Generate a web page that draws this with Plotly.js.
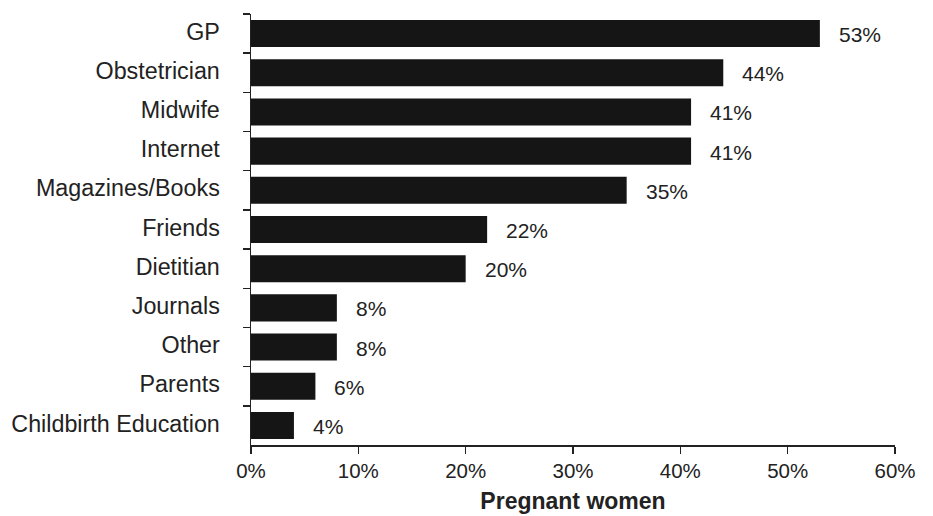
<!DOCTYPE html>
<html>
<head>
<meta charset="utf-8">
<script src="https://cdn.plot.ly/plotly-3.0.1.min.js"></script>
<style>html,body{margin:0;padding:0;background:#fff;}#chart{width:933px;height:516px;}</style>
</head>
<body>
<div id="chart"></div>
<script>
const categories = ["GP","Obstetrician","Midwife","Internet","Magazines/Books","Friends","Dietitian","Journals","Other","Parents","Childbirth Education"];
const values = [53,44,41,41,35,22,20,8,8,6,4];
const labels = ["53%","44%","41%","41%","35%","22%","20%","8%","8%","6%","4%"];
const xTickVals = [0,10,20,30,40,50,60];
const xTickText = ["0%","10%","20%","30%","40%","50%","60%"];

const font = "Liberation Sans, Arial, Helvetica, sans-serif";
const trace = {
  type: "bar",
  orientation: "h",
  x: values,
  y: categories,
  marker: {color: "#151515", line: {width: 0}},
  hoverinfo: "skip"
};
const annotations = categories.map((c, i) => ({
  x: values[i], y: c, text: labels[i], showarrow: false,
  xanchor: "left", yanchor: "middle", xshift: 17, yshift: -1,
  font: {family: font, size: 21, color: "#222"}
}));
const layout = {
  width: 933, height: 516,
  margin: {l: 250.5, r: 38, t: 13.5, b: 71},
  paper_bgcolor: "#fff", plot_bgcolor: "#fff",
  bargap: 0.31,
  showlegend: false,
  font: {family: font, color: "#222"},
  xaxis: {
    range: [0, 60], tickvals: xTickVals, ticktext: xTickText,
    ticks: "outside", ticklen: 7, tickwidth: 1.5, tickcolor: "#222",
    showline: true, linecolor: "#222", linewidth: 1.5,
    showgrid: false, zeroline: false,
    tickfont: {family: font, size: 20.5, color: "#222"},
    title: {text: "<b>Pregnant women</b>", font: {family: font, size: 23, color: "#222"}, standoff: 12}
  },
  yaxis: {
    autorange: "reversed",
    ticks: "outside", tickson: "boundaries", ticklen: 7, tickwidth: 1.5, tickcolor: "#222",
    showline: true, linecolor: "#222", linewidth: 1.5,
    showgrid: false, zeroline: false,
    ticklabelstandoff: 25,
    ticklabelshift: 2,
    tickfont: {family: font, size: 23.3, color: "#222"}
  },
  annotations: annotations
};
Plotly.newPlot("chart", [trace], layout, {displayModeBar: false, staticPlot: true});
</script>
</body>
</html>
